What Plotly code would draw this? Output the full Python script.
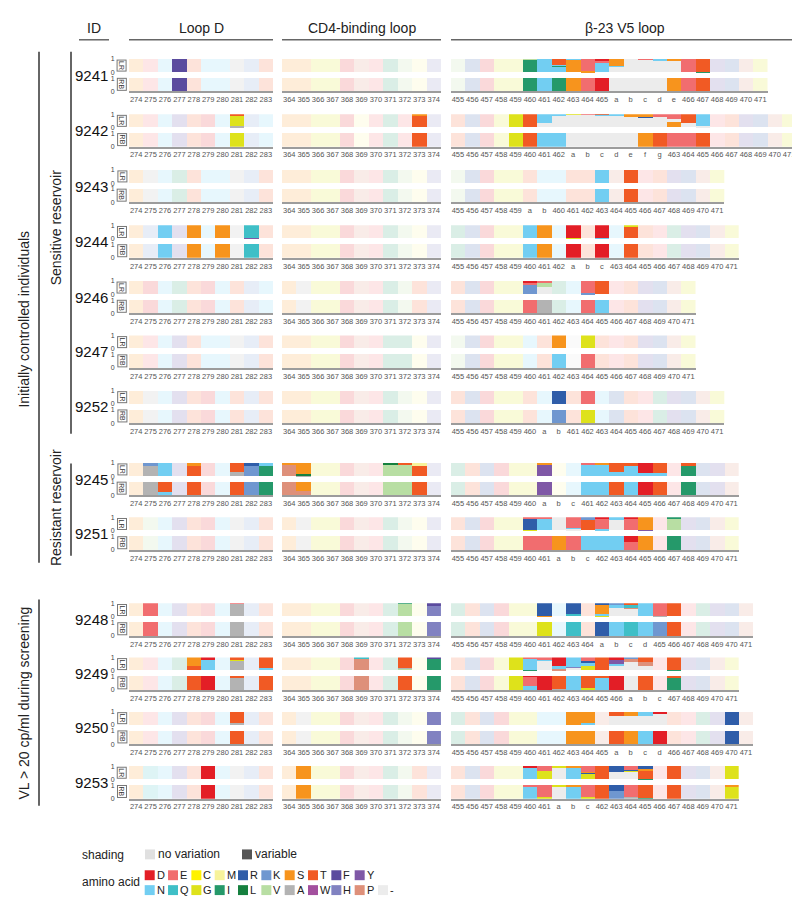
import plotly.graph_objects as go

W, H = 800, 900

# ---------------- data ----------------
AA_COLORS = {
    "D": "#E31E26", "E": "#F16D6F", "C": "#FFF200", "M": "#F7F39B", "R": "#2F5DA9",
    "K": "#6F97D0", "S": "#F7941D", "T": "#F15A24", "F": "#5B4B9E", "Y": "#7F58A6",
    "N": "#72CEF2", "Q": "#3FBFC7", "G": "#DEE21B", "I": "#25996A", "L": "#16803F",
    "V": "#B8DEA3", "A": "#B3B3B3", "W": "#A3509E", "H": "#8182C1", "P": "#DE907A",
    "-": "#ECECEC",
}
LEGEND_ROW1 = ["D", "E", "C", "M", "R", "K", "S", "T", "F", "Y"]
LEGEND_ROW2 = ["N", "Q", "G", "I", "L", "V", "A", "W", "H", "P", "-"]

PATIENTS = ["9241", "9242", "9243", "9244", "9246", "9247", "9252",
            "9245", "9251", "9248", "9249", "9250", "9253"]

LOOPD_POS = [str(v) for v in range(274, 284)]
CD4_POS = [str(v) for v in range(364, 375)]

V5_POS = {
    "9241": "455 456 457 458 459 460 461 462 463 464 465 a b c d e 466 467 468 469 470 471",
    "9242": "455 456 457 458 459 460 461 462 a b c d e f g 463 464 465 466 467 468 469 470 471",
    "9243": "455 456 457 458 459 a b 460 461 462 463 464 465 466 467 468 469 470 471",
    "9244": "455 456 457 458 459 460 461 462 a b c 463 464 465 466 467 468 469 470 471",
    "9246": "455 456 457 458 459 460 461 462 463 464 465 466 467 468 469 470 471",
    "9247": "455 456 457 458 459 460 461 462 463 464 465 466 467 468 469 470 471",
    "9252": "455 456 457 458 459 460 a b 461 462 463 464 465 466 467 468 469 470 471",
    "9245": "455 456 457 458 459 460 a b c 461 462 463 464 465 466 467 468 469 470 471",
    "9251": "455 456 457 458 459 460 461 a b c 462 463 464 465 466 467 468 469 470 471",
    "9248": "455 456 457 458 459 460 461 462 463 464 a b c d 465 466 467 468 469 470 471",
    "9249": "455 456 457 458 459 460 461 462 463 464 465 466 a b c 467 468 469 470 471",
    "9250": "455 456 457 458 459 460 461 462 463 464 465 a b c d 466 467 468 469 470 471",
    "9253": "455 456 457 458 459 460 461 a b c 462 463 464 465 466 467 468 469 470 471",
}

# token: lowercase = conserved (pale), uppercase / "-" = variable (full),
# "X.f+Y.g" = stacked fractions bottom->top, "_" = blank conserved
LOOPD_LR = {
    "9241": "s e n F t n n a k t",
    "9242": "s e n f t d n A.08+G.84+T.08 k n",
    "9243": "s a n i t n n a k t",
    "9244": "s k N f S n S a Y.05+Q.95 t",
    "9246": "s d n i t d n t k n",
    "9247": "s e n f t n n a k t",
    "9252": "s a n f t d n t k t",
    "9245": "s A.78+K.22 N f T.8+S.2 d n A.3+T.7 K.8+R.2 I.8+N.2",
    "9251": "s v n f t d n a k t",
    "9248": "s E n f t d n A.95+E.05 k t",
    "9249": "s e n i T.3+S.7 N.75+D.25 n A.75+G.05+T.2 k N.2+T.8",
    "9250": "s e n f t d n A.2+T.8 k t",
    "9253": "s q n f t D n a k t",
}
LOOPD_RB = {
    "9241": "s e n F t n n a k t",
    "9242": "s e n f t d n G k n",
    "9243": "s a n i t n n a k t",
    "9244": "s k N f S n S a Q t",
    "9246": "s d n i t d n t k n",
    "9247": "s e n f t n n a k t",
    "9252": "s a n f t d n t k t",
    "9245": "s A N.3+T.7 f T d n T K I",
    "9251": "s v n f t d n a k t",
    "9248": "s E n f t d n A k t",
    "9249": "s e n i T D n A.88+T.12 k T",
    "9250": "s e n f t d n T k t",
    "9253": "s q n f t D n a k t",
}
CD4_LR = {
    "9241": "s s g g d p e i v m h",
    "9242": "s s g g d m e i e T.92+S.08 h",
    "9243": "s s g g d p e i v m h",
    "9244": "s s g g d p e i v m h",
    "9246": "s a g g d p e i v t h",
    "9247": "s s g g d p e i i m h",
    "9252": "s s g g d p e i v m h",
    "9245": "P.9+S.1 A.05+L.1+S.85 g g d p e V.85+L.15 V.85+T.15 T.8+M.2 h",
    "9251": "s a g g d p e i v m h",
    "9248": "s s g g d p e i V.95+I.05 m H.75+F.25",
    "9249": "s s g g d P.9+Q.1 e i V.15+A.05+T.8 m I.85+F.15",
    "9250": "s a g g d p e i v m H",
    "9253": "s S g g d p e i v t h",
}
CD4_RB = {
    "9241": "s s g g d p e i v m h",
    "9242": "s s g g d m e i e T h",
    "9243": "s s g g d p e i v m h",
    "9244": "s s g g d p e i v m h",
    "9246": "s a g g d p e i v t h",
    "9247": "s s g g d p e i i m h",
    "9252": "s s g g d p e i v m h",
    "9245": "P P.35+S.65 g g d p e V V T h",
    "9251": "s a g g d p e i v m h",
    "9248": "s s g g d p e i V m H",
    "9249": "s s g g d P e i T m I",
    "9250": "s a g g d p e i v m H",
    "9253": "s S g g d p e i v t h",
}
V5_LR = {
    "9241": "v r d g g I.97+V.03 N N.4+I.1+N.05+T.45 S.95+N.05 S.1+E.9 N.75+E.1+D.15 -.4+N.1+S.5 - -.95+E.05 -.92+N.08 -.85+N.03+S.12 E I.05+T.95 f r p g",
    "9242": "t r d g G T -.35+N.65 -.9+N.1 -.93+G.07 -.93+E.07 -.9+N.05+T.05 -.9+N.1 -.8+S.2 -.75+R.05+S.2 -.8+E.2 S.4+-.2+E.4 -.35+T.65 -.1+N.9 e t f r p g",
    "9243": "v r d g g t n n t t N p T e t f r p g",
    "9244": "i r d g g N S n G.05+D.95 t N.05+D.95 n T.92+G.08 t e i f r p g",
    "9246": "t r d g g K.72+E.18+D.1 -.55+V.35+E.1 i n K.08+E.92 T e t f r p g",
    "9247": "v r d g g n t S _ G t e t f r p g",
    "9252": "t r d g g t n R t E n r t e i f r p g",
    "9245": "i t r d g g Y.85+S.15 m n N.85+E.15 N.85+S.15 N.3+T.7 N.8+T.2 N.25+D.75 N.25+T.75 e I.8+T.2 r f p",
    "9251": "t r d g g G.05+R.85+E.1 N.9+E.1 - -.1+N.1+E.8 T.8+K.2 N.1+E.8+D.1 -.8+N.2 E.9+D.1 Y.05+S.95 e V.85+I.15 f r p g",
    "9248": "i t r d g g S.05+R.95 n Q.15+R.85 t G.05+N.1+S.7+K.05+R.1 -.6+N.3+K.1 -.55+P.1+Q.25+T.1 N A.05+E.95 T e i f r p",
    "9249": "t r d g G I.05+N.8+E.15 -.7+N.1+E.2 P.1+G.05+N.15+D.7 -.2+H.05+N.75 G.3+N.3+R.1+E.3 T -.3+N.2+Y.3+D.2 -.65+P.2+K.15 -.3+P.3+T.4 e I.05+T.95 f r p g",
    "9250": "i t r d g g n n S N.15+S.85 p -.7+T.3 -.7+S.3 -.7+N.3 -.88+D.12 t e i f R p",
    "9253": "t r d g g N.85+E.05+D.1 G.6+E.4 -.92+G.08 N.9+S.1 G.4+R.1+S.05+E.45 T -.55+R.45 -.55+G.1+R.05+E.3 I.05+T.55+S.2+R.2 e T f r p G",
}
V5_RB = {
    "9241": "v r d g g I N I S E D - - - - S E T f r p g",
    "9242": "t r d g G T N N - - - - - S T E E T e t f r p g",
    "9243": "v r d g g t n n t t N p T e t f r p g",
    "9244": "i r d g g N S n D t D n T t e i f r p g",
    "9246": "t r d g g E A i n E N e t f r p g",
    "9247": "v r d g g n t N _ E t e t f r p g",
    "9252": "t r d g g t n K t G n r t e i f r p g",
    "9245": "i t r d g g Y m n N N T N D T e I r f p",
    "9251": "t r d g g E E S E N N N E.6+D.4 S e I f r p g",
    "9248": "i t r d g g G n Q t R N Q N K T e i f r p",
    "9249": "t r d g G N.25+E.7+D.05 D A.05+T.95 N G.1+T.9 N.9+T.1 D - T e I.88+T.12 f r p g",
    "9250": "i t r d g g n n S S p T S N D t e i f R p",
    "9253": "t r d g g N.9+E.1 G.1+E.9 -.9+G.1 N.9+S.1 G.1+E.9 T K.6+R.4 A.15+E.85 I.05+T.95 e T f r p G.9+S.1",
}

# ---------------- layout constants ----------------
ROW_TOPS = [47.3, 103.0, 159.0, 215.0, 271.0, 326.0, 381.5,
            454.3, 509.3, 596.0, 650.5, 705.0, 760.0]
REGION_X0 = [121.0, 274.0, 442.7]
CELL_W = [14.4, 14.45, 14.4]
ROW_H = 13.4
GAP = 6.0
LR_BASE = 1.0 + GAP / ROW_H
YMAX = LR_BASE + 1.0
BLOCK_H = ROW_H * YMAX
FONT = "Arial, Liberation Sans, sans-serif"
PALE_ALPHA = 0.17


def blend(hexcol, a):
    hexcol = hexcol.lstrip("#")
    r, g, b = (int(hexcol[i:i + 2], 16) for i in (0, 2, 4))
    f = lambda c: int(round(255 - a * (255 - c)))
    return "#%02X%02X%02X" % (f(r), f(g), f(b))


def parse(tok):
    if "+" in tok or "." in tok:
        segs = [(s[0], float(s[1:])) for s in tok.split("+")]
        tot = sum(v for _, v in segs)
        return [(AA_COLORS[c], v / tot) for c, v in segs]
    if tok == "_":
        return [("#FAFAFA", 1.0)]
    if tok == "-" or tok.isupper():
        return [(AA_COLORS[tok], 1.0)]
    return [(blend(AA_COLORS[tok.upper()], PALE_ALPHA), 1.0)]


def py2paper(py):
    return 1 - py / H


def px2paper(px):
    return px / W


fig = go.Figure()
layout = {}
annotations = []
shapes = []

for i, pid in enumerate(PATIENTS):
    top = ROW_TOPS[i]
    ydom = [py2paper(top + BLOCK_H), py2paper(top)]
    regions = [
        (LOOPD_POS, LOOPD_LR[pid], LOOPD_RB[pid]),
        (CD4_POS, CD4_LR[pid], CD4_RB[pid]),
        (V5_POS[pid].split(), V5_LR[pid], V5_RB[pid]),
    ]
    for r, (labels, lr, rb) in enumerate(regions):
        k = i * 3 + r + 1
        n = len(labels)
        xs, ys, bases, cols = [], [], [], []
        for row_str, base0 in ((rb, 0.0), (lr, LR_BASE)):
            toks = row_str.split()
            if len(toks) != n:
                raise ValueError(f"{pid} region {r}: {len(toks)} tokens vs {n} labels")
            for j, tok in enumerate(toks):
                b = base0
                for col, frac in parse(tok):
                    xs.append(j)
                    ys.append(frac)
                    bases.append(b)
                    cols.append(col)
                    b += frac
        suffix = "" if k == 1 else str(k)
        fig.add_trace(go.Bar(
            x=xs, y=ys, base=bases, width=1.0,
            marker=dict(color=cols, line=dict(width=0)),
            xaxis="x" + suffix, yaxis="y" + suffix,
            hoverinfo="skip", showlegend=False,
        ))
        x0 = REGION_X0[r]
        x1 = x0 + n * CELL_W[r]
        layout["xaxis" + suffix] = dict(
            domain=[px2paper(x0), px2paper(x1)], anchor="y" + suffix,
            range=[-0.5, n - 0.5], tickmode="array",
            tickvals=list(range(n)), ticktext=labels, tickangle=0,
            tickfont=dict(size=7.5, color="#555555", family=FONT),
            showline=True, linecolor="#9C9C9C", linewidth=1.5,
            showgrid=False, zeroline=False, ticks="", fixedrange=True,
        )
        yax = dict(
            domain=ydom, anchor="x" + suffix, range=[0, YMAX],
            showgrid=False, zeroline=False, showline=False, fixedrange=True,
        )
        if r == 0:
            yax.update(tickmode="array", tickvals=[0, 1, LR_BASE, YMAX],
                       ticktext=["0", "1", "0", "1"], ticks="outside",
                       ticklen=12, tickcolor="rgba(0,0,0,0)",
                       tickfont=dict(size=7, color="#444444", family=FONT))
        else:
            yax.update(showticklabels=False)
        layout["yaxis" + suffix] = yax

    # patient ID
    annotations.append(dict(
        x=px2paper(102), y=py2paper(top + BLOCK_H / 2), xref="paper", yref="paper",
        text=pid, showarrow=False, xanchor="right", yanchor="middle",
        font=dict(size=15, color="#111111", family=FONT)))
    # LR / RB boxes
    for lab, yc in (("LR", top + ROW_H / 2), ("RB", top + ROW_H + GAP + ROW_H / 2)):
        annotations.append(dict(
            x=px2paper(114), y=py2paper(yc), xref="paper", yref="paper",
            text=lab, showarrow=False, textangle=90, xanchor="center", yanchor="middle",
            font=dict(size=7, color="#333333", family=FONT),
            bordercolor="#777777", borderwidth=1, borderpad=0.5, bgcolor="white"))

# headers
HEADERS = [("ID", 71, 101), ("Loop D", 121, 265), ("CD4-binding loop", 274, 433),
           ("β-23 V5 loop", 443, 790)]
for text, a, b in HEADERS:
    xc = (a + b) / 2 if text != "β-23 V5 loop" else 617
    annotations.append(dict(
        x=px2paper(xc), y=py2paper(16), xref="paper", yref="paper", text=text,
        showarrow=False, xanchor="center", yanchor="middle",
        font=dict(size=14, color="#222222", family=FONT)))
    shapes.append(dict(type="line", xref="paper", yref="paper",
                       x0=px2paper(a), x1=px2paper(b), y0=py2paper(28), y1=py2paper(28),
                       line=dict(color="#666666", width=1.5)))

# group labels
GROUPS = [
    ("Initially controlled individuals", 16, 31, 40, 555, 310),
    ("Sensitive reservoir", 48, 63, 40, 425, 218),
    ("Resistant reservoir", 48, 63, 455, 548, 500),
    ("VL > 20 cp/ml during screening", 16, 31, 592, 800, 697),
]
for text, tx, lx, y0, y1, yc in GROUPS:
    annotations.append(dict(
        x=px2paper(tx), y=py2paper(yc), xref="paper", yref="paper", text=text,
        showarrow=False, textangle=-90, xanchor="center", yanchor="middle",
        font=dict(size=14, color="#222222", family=FONT)))
    shapes.append(dict(type="line", xref="paper", yref="paper",
                       x0=px2paper(lx), x1=px2paper(lx), y0=py2paper(y0), y1=py2paper(y1),
                       line=dict(color="#333333", width=1.5)))

# legend
annotations.append(dict(x=px2paper(72), y=py2paper(850), xref="paper", yref="paper",
                        text="shading", showarrow=False, xanchor="left", yanchor="middle",
                        font=dict(size=12, color="#222222", family=FONT)))
annotations.append(dict(x=px2paper(72), y=py2paper(877), xref="paper", yref="paper",
                        text="amino acid", showarrow=False, xanchor="left", yanchor="middle",
                        font=dict(size=12, color="#222222", family=FONT)))
for lab, col, bx in (("no variation", "#E0E0E0", 137), ("variable", "#555555", 234)):
    shapes.append(dict(type="rect", xref="paper", yref="paper",
                       x0=px2paper(bx), x1=px2paper(bx + 10),
                       y0=py2paper(854), y1=py2paper(844),
                       fillcolor=col, line=dict(width=0)))
    annotations.append(dict(x=px2paper(bx + 11), y=py2paper(849), xref="paper", yref="paper",
                            text=lab, showarrow=False, xanchor="left", yanchor="middle",
                            font=dict(size=12, color="#222222", family=FONT)))
for row, yc in ((LEGEND_ROW1, 870), (LEGEND_ROW2, 885)):
    for j, aa in enumerate(row):
        bx = 136.7 + 23.33 * j
        shapes.append(dict(type="rect", xref="paper", yref="paper",
                           x0=px2paper(bx), x1=px2paper(bx + 10),
                           y0=py2paper(yc + 5), y1=py2paper(yc - 5),
                           fillcolor=AA_COLORS[aa], line=dict(width=0)))
        annotations.append(dict(x=px2paper(bx + 10), y=py2paper(yc), xref="paper",
                                yref="paper", text=aa, showarrow=False, xanchor="left",
                                yanchor="middle",
                                font=dict(size=11, color="#222222", family=FONT)))

fig.update_layout(
    width=W, height=H, margin=dict(l=0, r=0, t=0, b=0),
    paper_bgcolor="white", plot_bgcolor="white",
    barmode="overlay", bargap=0, showlegend=False,
    annotations=annotations, shapes=shapes,
    font=dict(family=FONT),
    **layout,
)

fig.write_html("out.html")
